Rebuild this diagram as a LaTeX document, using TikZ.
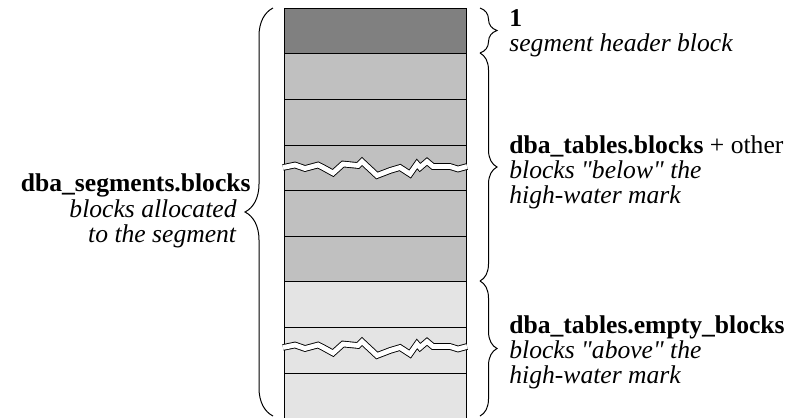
\documentclass[tikz,border=0pt]{standalone}
\usepackage{fontspec}
\setmainfont{Liberation Serif}
\usetikzlibrary{decorations.pathreplacing}

\definecolor{hdrgray}{HTML}{808080}
\definecolor{usedgray}{HTML}{C0C0C0}
\definecolor{emptygray}{HTML}{E4E4E4}

\tikzset{
  blk/.style={draw, line width=0.5pt},
  lbrace/.style={decorate, decoration={brace, amplitude=14pt}, line width=0.5pt},
  rbrace/.style={decorate, decoration={brace, amplitude=8.5pt}, line width=0.5pt},
  gap/.style={line width=0.45pt, double=white, double distance=2.4pt},
  lbl/.style={font=\fontsize{12.8}{12.5}\selectfont, inner sep=0pt},
}

\begin{document}
\begin{tikzpicture}[x=0.5pt, y=-0.5pt]
  \useasboundingbox (0,0) rectangle (789,418);
  % the segment, block by block
  \foreach \ya/\yb/\c in {8/53/hdrgray, 53/99/usedgray, 99/145/usedgray,
      145/190/usedgray, 190/236/usedgray, 236/281/usedgray,
      281/327/emptygray, 327/373/emptygray, 373/422/emptygray}
  {
    \draw[blk, fill=\c] (284,\ya) rectangle (466,\yb);
  }
  % breaks in the column
  \foreach \dy in {0,180}
  {
    \draw[gap, shift={(0,\dy)}] (283,167.5) -- (295,165) -- (305,168.5)
      -- (318,165) -- (323,167.5) -- (333,173) -- (343,164) -- (358,165.5)
      -- (362,161.5) -- (377,175.5) -- (390,170.5) -- (400,167.5)
      -- (410,174) -- (417,164) -- (420,167.5) -- (427,161.5)
      -- (433,166.5) -- (450,166.5) -- (458,169) -- (467,166.5);
  }
  % brace ends
  \coordinate (segtop) at (273,8);
  \coordinate (segbot) at (273,416);
  \coordinate (hdrtop) at (480,8);
  \coordinate (hdrbot) at (480,53);
  \coordinate (hwm) at (480,281);
  \coordinate (rbot) at (480,416);
  \draw[lbrace] (segbot) -- (segtop);
  \draw[rbrace] (hdrtop) -- (hdrbot);
  \draw[rbrace] (hdrbot) -- (hwm);
  \draw[rbrace] (hwm) -- (rbot);
  % labels
  \node[lbl, anchor=east] (segtxt) at (251,185) {\textbf{dba\_segments.blocks}};
  \node[lbl, anchor=north east, align=right] (segnote) at (237,199)
    {\textit{blocks allocated}\\\textit{to the segment}};
  \node[lbl, anchor=west, align=left] (hdrtxt) at (509,33)
    {\textbf{1}\\\textit{segment header block}};
  \node[lbl, anchor=west, align=left] (usedtxt) at (509,172)
    {\textbf{dba\_tables.blocks} + other\\
     \textit{blocks \textquotedbl below\textquotedbl{} the}\\
     \textit{high-water mark}};
  \node[lbl, anchor=west, align=left] (emptytxt) at (509,352)
    {\textbf{dba\_tables.empty\_blocks}\\
     \textit{blocks \textquotedbl above\textquotedbl{} the}\\
     \textit{high-water mark}};
\end{tikzpicture}
\end{document}
